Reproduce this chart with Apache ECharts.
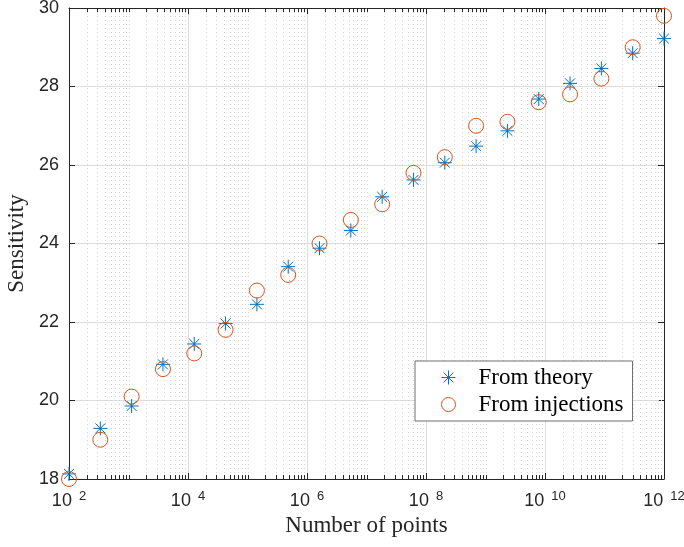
<!DOCTYPE html>
<html>
<head>
<meta charset="utf-8">
<script src="https://cdn.jsdelivr.net/npm/echarts@6/dist/echarts.min.js"></script>
<style>html,body{margin:0;padding:0;background:#fff;}#c{width:684px;height:547px;}</style>
</head>
<body>
<div id="c"></div>
<script>
// Number of points (x values)
var numPoints = [100, 336, 1129, 3793, 12743, 42813, 143845, 483293, 1623777, 5455595,
  18329807, 61584821, 206913808, 695192796, 2335721469, 7847599703, 26366508987,
  88586679041, 297635144163, 1000000000000];
var fromTheory = [18.13, 19.29, 19.86, 20.92, 21.44, 21.96, 22.45, 23.41, 23.88, 24.33,
  25.19, 25.62, 26.06, 26.48, 26.87, 27.68, 28.08, 28.46, 28.85, 29.22];
var fromInjections = [18.0, 19.0, 20.1, 20.8, 21.2, 21.8, 22.8, 23.2, 24.0, 24.6,
  25.0, 25.8, 26.2, 27.0, 27.1, 27.6, 27.8, 28.2, 29.0, 29.8];
var seriesNames = ['From theory', 'From injections'];
var xLabelExponents = [2, 4, 6, 8, 10, 12];
var yTicks = [18, 20, 22, 24, 26, 28, 30];
var decades = [2, 3, 4, 5, 6, 7, 8, 9, 10, 11, 12];
var minorMultipliers = [2, 3, 4, 5, 6, 7, 8, 9];

var X_MIN = 1e2, X_MAX = 1e12, Y_MIN = 18, Y_MAX = 30;
var axisColor = '#262626';

// x grid/tick marks: [value, kind]  kind 2 = labelled decade, 1 = other decade, 0 = 2..9 multiples
var xMarks = [];
decades.forEach(function (d) {
  xMarks.push([Math.pow(10, d), xLabelExponents.indexOf(d) >= 0 ? 2 : 1]);
  if (d < 12) minorMultipliers.forEach(function (m) { xMarks.push([m * Math.pow(10, d), 0]); });
});

function pair(xs, ys) { return xs.map(function (x, i) { return [x, ys[i]]; }); }

var asterisk = 'path://M0,5L10,5M5,0L5,10M1.46,1.46L8.54,8.54M1.46,8.54L8.54,1.46';

var chart = echarts.init(document.getElementById('c'), null, {renderer: 'canvas'});
chart.setOption({
  animation: false,
  backgroundColor: '#ffffff',
  grid: {left: 69, right: 20, top: 8, bottom: 68, containLabel: false, outerBoundsMode: 'none'},
  legend: {
    data: [
      {name: seriesNames[0], icon: asterisk, itemStyle: {color: 'rgba(0,0,0,0)', borderColor: '#0072BD', borderWidth: 1}},
      {name: seriesNames[1], icon: 'circle', itemStyle: {color: 'rgba(0,0,0,0)', borderColor: '#D95319', borderWidth: 1}}
    ],
    orient: 'vertical',
    left: 415, top: 361,
    padding: [5, 9, 5, 26],
    itemGap: 4,
    itemWidth: 14, itemHeight: 14,
    backgroundColor: '#ffffff',
    borderColor: '#6e6e6e', borderWidth: 1, borderRadius: 0,
    selectedMode: false,
    textStyle: {fontFamily: 'Liberation Serif', fontSize: 23, color: '#000', lineHeight: 23, padding: [0, 0, 0, 18]}
  },
  xAxis: [{
    type: 'log', logBase: 10, min: X_MIN, max: X_MAX,
    position: 'bottom',
    axisLine: {show: true, onZero: false, lineStyle: {color: axisColor, width: 1}},
    axisTick: {show: false},
    splitLine: {show: false},
    axisLabel: {
      margin: 11, color: axisColor,
      formatter: function (v) {
        var e = Math.round(Math.log10(v));
        if (xLabelExponents.indexOf(e) < 0) return '';
        return '{b|10}{s|' + e + '}';
      },
      rich: {
        b: {fontFamily: 'Liberation Sans', fontSize: 18, color: axisColor, verticalAlign: 'bottom', lineHeight: 20},
        s: {fontFamily: 'Liberation Sans', fontSize: 13, color: axisColor, verticalAlign: 'top', padding: [0, 0, 0, 7], lineHeight: 20}
      }
    },
    name: 'Number of points', nameLocation: 'middle', nameGap: 32,
    nameTextStyle: {fontFamily: 'Liberation Serif', fontSize: 23, color: axisColor, verticalAlign: 'top'}
  }, {
    type: 'log', logBase: 10, min: X_MIN, max: X_MAX,
    position: 'top',
    axisLine: {show: true, onZero: false, lineStyle: {color: axisColor, width: 1}},
    axisTick: {show: false}, splitLine: {show: false}, axisLabel: {show: false}
  }],
  yAxis: [{
    type: 'value', min: Y_MIN, max: Y_MAX, interval: 2, position: 'left',
    axisLine: {show: true, onZero: false, lineStyle: {color: axisColor, width: 1}},
    axisTick: {show: true, inside: true, length: 6, lineStyle: {color: axisColor}},
    splitLine: {show: true, lineStyle: {color: '#dedede', width: 1}},
    axisLabel: {margin: 10, fontFamily: 'Liberation Sans', fontSize: 18, color: axisColor,
      formatter: function (v) { return yTicks.indexOf(v) >= 0 ? String(v) : ''; }},
    name: 'Sensitivity', nameLocation: 'middle', nameGap: 40, nameRotate: 90,
    nameTextStyle: {fontFamily: 'Liberation Serif', fontSize: 23, color: axisColor}
  }, {
    type: 'value', min: Y_MIN, max: Y_MAX, interval: 2, position: 'right',
    axisLine: {show: true, onZero: false, lineStyle: {color: axisColor, width: 1}},
    axisTick: {show: true, inside: true, length: 6, lineStyle: {color: axisColor}},
    splitLine: {show: false}, axisLabel: {show: false}
  }],
  series: [{
    type: 'custom',
    name: 'xgrid',
    silent: true,
    xAxisIndex: 0, yAxisIndex: 0,
    z: 1,
    clip: false,
    data: xMarks,
    encode: {x: 0},
    renderItem: function (params, api) {
      var x = api.value(0), kind = api.value(1);
      var b = api.coord([x, Y_MIN]);
      var t = api.coord([x, Y_MAX]);
      var px = Math.round(b[0]) + 0.5;
      var len = kind === 2 ? 6 : 4;
      var kids = [];
      if (kind === 2) {
        if (x !== X_MIN && x !== X_MAX)
          kids.push({type: 'line', shape: {x1: px, y1: t[1], x2: px, y2: b[1]},
            style: {stroke: '#dedede', lineWidth: 1}});
      } else {
        kids.push({type: 'line', shape: {x1: px, y1: t[1], x2: px, y2: b[1]},
          style: {stroke: '#d4d4d4', lineWidth: 1, lineDash: [1, 3]}});
      }
      kids.push({type: 'line', shape: {x1: px, y1: b[1], x2: px, y2: b[1] - len},
        style: {stroke: axisColor, lineWidth: 1}});
      kids.push({type: 'line', shape: {x1: px, y1: t[1], x2: px, y2: t[1] + len},
        style: {stroke: axisColor, lineWidth: 1}});
      return {type: 'group', children: kids};
    }
  }, {
    type: 'scatter',
    name: seriesNames[0],
    clip: false,
    z: 3,
    symbol: asterisk,
    symbolSize: 14,
    itemStyle: {color: 'rgba(0,0,0,0)', borderColor: '#0072BD', borderWidth: 1, opacity: 1},
    data: pair(numPoints, fromTheory)
  }, {
    type: 'scatter',
    name: seriesNames[1],
    clip: false,
    z: 3,
    symbol: 'circle',
    symbolSize: 15,
    itemStyle: {color: 'rgba(0,0,0,0)', borderColor: '#D95319', borderWidth: 1, opacity: 1},
    data: pair(numPoints, fromInjections)
  }]
});
</script>
</body>
</html>
